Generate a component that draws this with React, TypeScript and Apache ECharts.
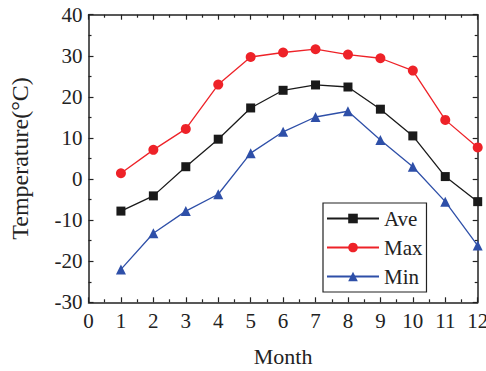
import React, { useEffect, useRef } from "react";
import * as echarts from "echarts";

const months = [1, 2, 3, 4, 5, 6, 7, 8, 9, 10, 11, 12];
const aveValues = [-7.8, -4.1, 3.0, 9.7, 17.3, 21.6, 22.9, 22.4, 17.0, 10.5, 0.6, -5.5];
const maxValues = [1.4, 7.1, 12.2, 23.0, 29.7, 30.8, 31.6, 30.3, 29.4, 26.4, 14.4, 7.7];
const minValues = [-22.0, -13.2, -7.8, -3.7, 6.3, 11.5, 15.1, 16.5, 9.5, 3.0, -5.5, -16.2];

const FONT = "Liberation Serif";

export default function App() {
  const ref = useRef<HTMLDivElement>(null);
  useEffect(() => {
    document.body.style.margin = "0";
    const chart = echarts.init(ref.current!, null, { renderer: "svg" });
    const axisLine = { show: true, onZero: false, lineStyle: { color: "#222", width: 1.5 } };
    const tickStyle = { color: "#222", width: 1.2 };
    const mk = (arr: number[]) => months.map((m, i) => [m, arr[i]]);
    const labelStyle = { fontFamily: FONT, fontSize: 21, color: "#222" };
    chart.setOption({
      animation: false,
      textStyle: { fontFamily: FONT },
      grid: {
        left: 88.5, right: 8.3, top: 14.7, bottom: 68.7,
        containLabel: false, outerBoundsMode: "none",
      },
      xAxis: [
        {
          type: "value", min: 0, max: 12, interval: 1, position: "bottom",
          name: "Month", nameLocation: "middle", nameGap: 43,
          nameTextStyle: { fontFamily: FONT, fontSize: 22, color: "#222" },
          axisLine,
          axisTick: { show: true, inside: true, length: 5, lineStyle: tickStyle },
          minorTick: { show: true, splitNumber: 2, length: 3, lineStyle: tickStyle },
          axisLabel: { ...labelStyle, margin: 8 },
          splitLine: { show: false },
        },
        {
          type: "value", min: 0, max: 12, interval: 1, position: "top",
          axisLine,
          axisTick: { show: true, inside: true, length: 5, lineStyle: tickStyle },
          minorTick: { show: true, splitNumber: 2, length: 3, lineStyle: tickStyle },
          axisLabel: { show: false },
          splitLine: { show: false },
        },
      ],
      yAxis: [
        {
          type: "value", min: -30, max: 40, interval: 10, position: "left",
          name: "Temperature(°C)", nameLocation: "middle", nameGap: 57,
          nameTextStyle: { fontFamily: FONT, fontSize: 24, color: "#222" },
          axisLine,
          axisTick: { show: true, inside: true, length: 5, lineStyle: tickStyle },
          minorTick: { show: true, splitNumber: 2, length: 3, lineStyle: tickStyle },
          axisLabel: { ...labelStyle, margin: 6 },
          splitLine: { show: false },
        },
        {
          type: "value", min: -30, max: 40, interval: 10, position: "right",
          axisLine,
          axisTick: { show: true, inside: true, length: 5, lineStyle: tickStyle },
          minorTick: { show: true, splitNumber: 2, length: 3, lineStyle: tickStyle },
          axisLabel: { show: false },
          splitLine: { show: false },
        },
      ],
      legend: {
        orient: "vertical", left: 323, top: 203,
        borderColor: "#222", borderWidth: 1.2,
        padding: [5, 4, 5, 3],
        itemWidth: 52, itemHeight: 12, itemGap: 8,
        textStyle: { fontFamily: FONT, fontSize: 21, color: "#222", lineHeight: 20 },
        data: ["Ave", "Max", "Min"],
      },
      series: [
        {
          name: "Ave", type: "line", data: mk(aveValues),
          symbol: "rect", symbolSize: 9,
          itemStyle: { color: "#1a1a1a" }, lineStyle: { color: "#1a1a1a", width: 1.3 },
        },
        {
          name: "Max", type: "line", data: mk(maxValues),
          symbol: "circle", symbolSize: 10,
          itemStyle: { color: "#ee2228" }, lineStyle: { color: "#ee2228", width: 1.3 },
        },
        {
          name: "Min", type: "line", data: mk(minValues),
          symbol: "triangle", symbolSize: 10,
          itemStyle: { color: "#2e4fa8" }, lineStyle: { color: "#2e4fa8", width: 1.3 },
        },
      ],
    });
    return () => chart.dispose();
  }, []);
  return <div ref={ref} style={{ width: 486, height: 371 }} />;
}
